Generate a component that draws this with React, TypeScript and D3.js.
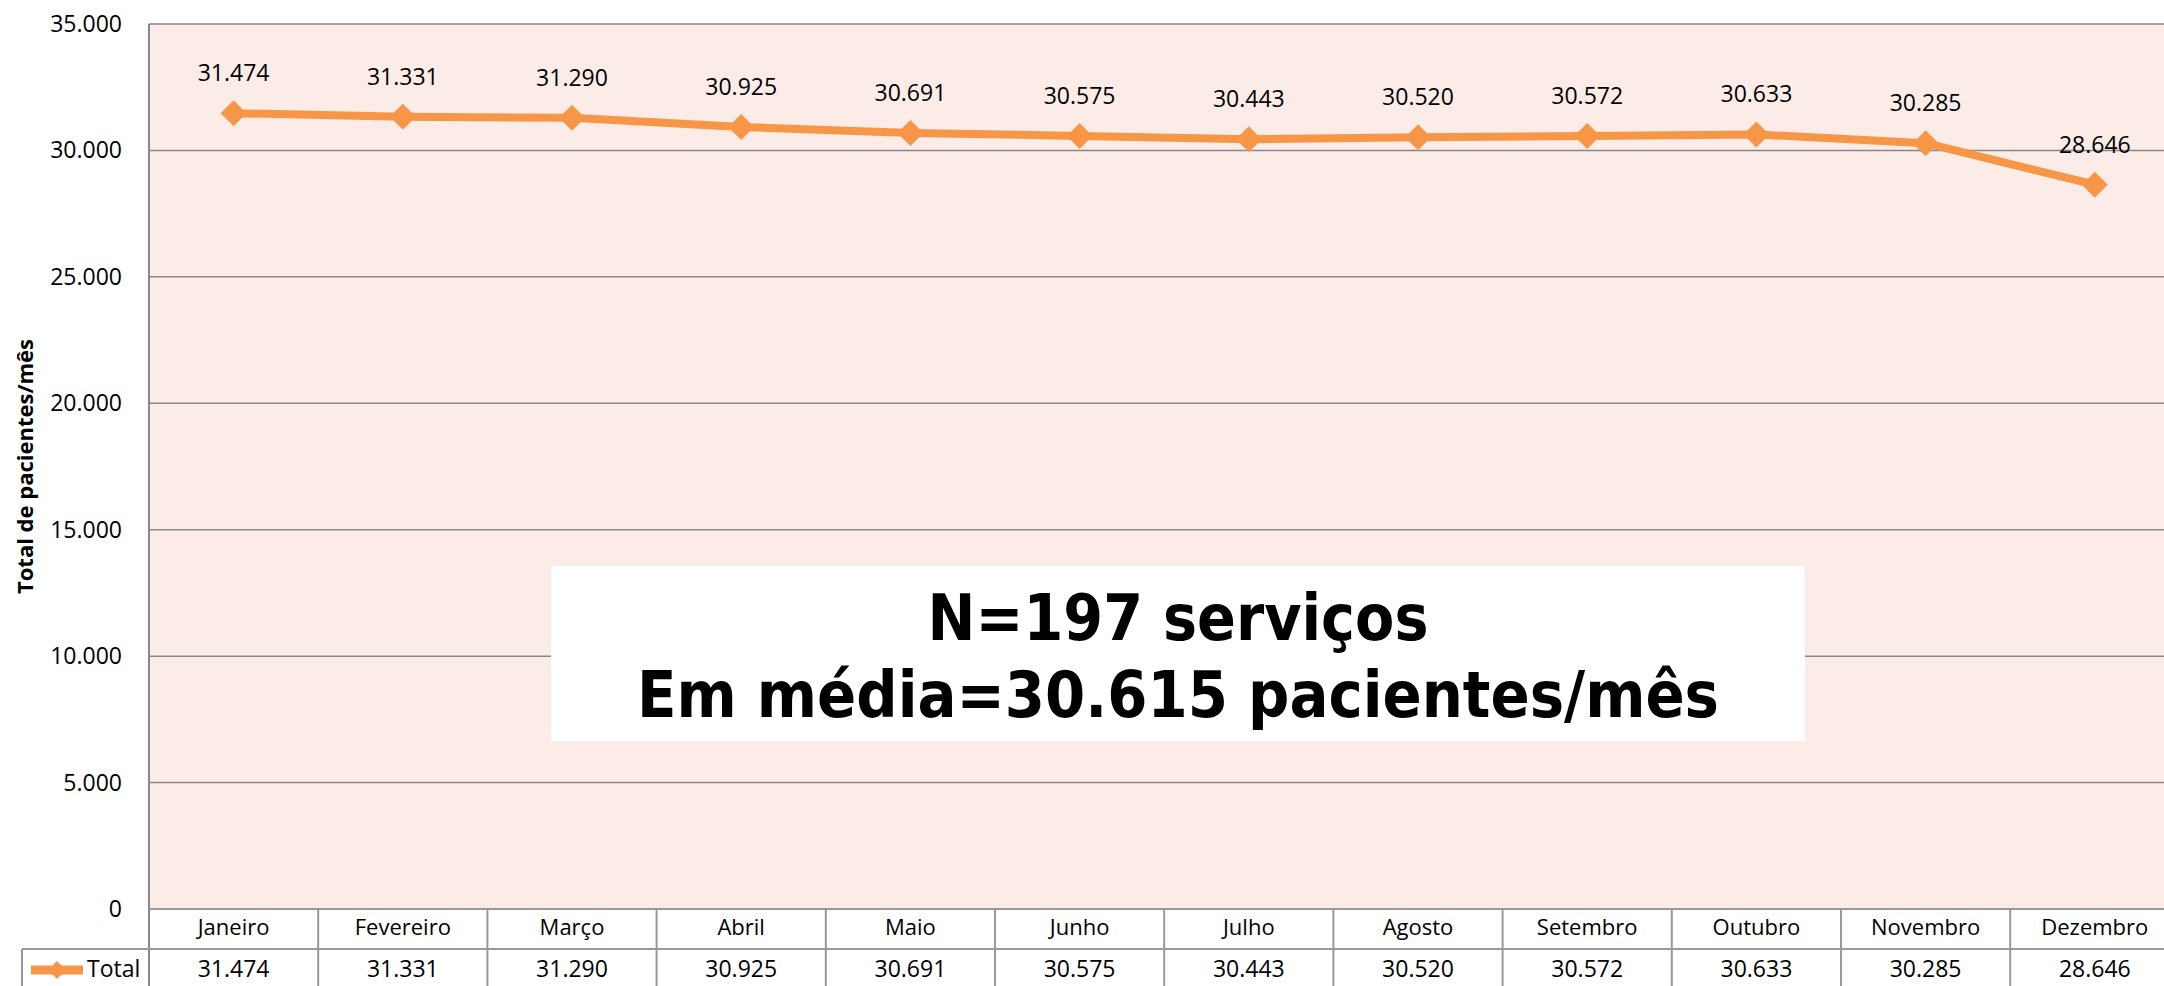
import React, { useEffect } from "react";
import * as d3 from "d3";

const months = ["Janeiro", "Fevereiro", "Março", "Abril", "Maio", "Junho", "Julho", "Agosto", "Setembro", "Outubro", "Novembro", "Dezembro"];
const totals = [31474, 31331, 31290, 30925, 30691, 30575, 30443, 30520, 30572, 30633, 30285, 28646];
const yTicks = [0, 5000, 10000, 15000, 20000, 25000, 30000, 35000];
const seriesName = "Total";
const yTitle = "Total de pacientes/mês";
const boxLines = ["N=197 serviços", "Em média=30.615 pacientes/mês"];
const boxLineWidths = [501, 1082];

const W = 2164;
const H = 986;
const left = 149;
const top = 24;
const bottom = 909;
const colW = 169.2;
const right = left + colW * months.length;
const rowH = 40;

const ORANGE = "#F79646";
const GRID = "#888888";
const BG = "#FBECE7";
const FONT = "'Open Sans', Lato, sans-serif";

const fmt = (v: number) => {
  const s = d3.format(",")(v);
  return s.replace(/,/g, ".");
};

export default function App() {
  useEffect(() => {
    document.body.style.margin = "0";
    document.body.style.overflow = "hidden";
  }, []);

  const x = d3.scaleBand<string>().domain(months).range([left, right]).padding(0);
  const y = d3.scaleLinear().domain([0, 35000]).range([bottom, top]);
  const cx = (m: string) => (x(m) as number) + x.bandwidth() / 2;

  const line = d3
    .line<number>()
    .x((_, i) => cx(months[i]))
    .y((d) => y(d));

  const diamond = (px: number, py: number, r: number) =>
    `M${px},${py - r}L${px + r},${py}L${px},${py + r}L${px - r},${py}Z`;

  return (
    <svg width={W} height={H} style={{ display: "block", background: "#fff" }} fontFamily={FONT}>
      <rect x={left} y={top} width={right - left} height={bottom - top} fill={BG} />
      {yTicks.map((t) => (
        <g key={t}>
          {t > 0 && <line x1={left} x2={right} y1={y(t)} y2={y(t)} stroke={GRID} strokeWidth={1.5} />}
          <text x={122} y={y(t)} dy="0.35em" textAnchor="end" fontSize={23} fill="#000">
            {fmt(t)}
          </text>
        </g>
      ))}
      <line x1={left} x2={left} y1={top} y2={H} stroke={GRID} strokeWidth={2} />
      <text
        transform={`translate(25,${(top + bottom) / 2}) rotate(-90)`}
        textAnchor="middle"
        dy="0.35em"
        fontSize={22}
        fontWeight="bold"
        fill="#000"
      >
        {yTitle}
      </text>

      <rect x={551} y={566} width={1254} height={175} fill="#fff" />
      {boxLines.map((s, i) => (
        <text
          key={i}
          x={1178}
          y={640 + i * 77}
          textAnchor="middle"
          fontFamily="'DejaVu Sans', Verdana, sans-serif"
          fontWeight="bold"
          fontSize={64}
          textLength={boxLineWidths[i]}
          lengthAdjust="spacingAndGlyphs"
          fill="#000"
        >
          {s}
        </text>
      ))}

      <path d={line(totals) || ""} fill="none" stroke={ORANGE} strokeWidth={8} strokeLinejoin="round" />
      {totals.map((v, i) => (
        <g key={i}>
          <path d={diamond(cx(months[i]), y(v), 13)} fill={ORANGE} />
          <text x={cx(months[i])} y={y(v) - 32} textAnchor="middle" fontSize={23} fill="#000">
            {fmt(v)}
          </text>
        </g>
      ))}

      {/* data table */}
      <g stroke="#999" strokeWidth={2}>
        <line x1={left} x2={right} y1={bottom} y2={bottom} />
        <line x1={22} x2={right} y1={bottom + rowH} y2={bottom + rowH} />
        <line x1={22} x2={right} y1={bottom + 2 * rowH} y2={bottom + 2 * rowH} />
        <line x1={22} x2={22} y1={bottom + rowH} y2={bottom + 2 * rowH} />
        {months.map((m) => (
          <line key={m} x1={(x(m) as number) + colW} x2={(x(m) as number) + colW} y1={bottom} y2={bottom + 2 * rowH} />
        ))}
      </g>
      {months.map((m, i) => (
        <g key={m}>
          <text x={cx(m)} y={bottom + 26} textAnchor="middle" fontSize={22} fill="#000">
            {m}
          </text>
          <text x={cx(m)} y={bottom + rowH + 28} textAnchor="middle" fontSize={23} fill="#000">
            {fmt(totals[i])}
          </text>
        </g>
      ))}
      <line x1={31} x2={83} y1={bottom + rowH + 21} y2={bottom + rowH + 21} stroke={ORANGE} strokeWidth={9} />
      <path d={diamond(57, bottom + rowH + 21, 9)} fill={ORANGE} />
      <text x={87} y={bottom + rowH + 28} fontSize={23} fill="#000">
        {seriesName}
      </text>
    </svg>
  );
}
